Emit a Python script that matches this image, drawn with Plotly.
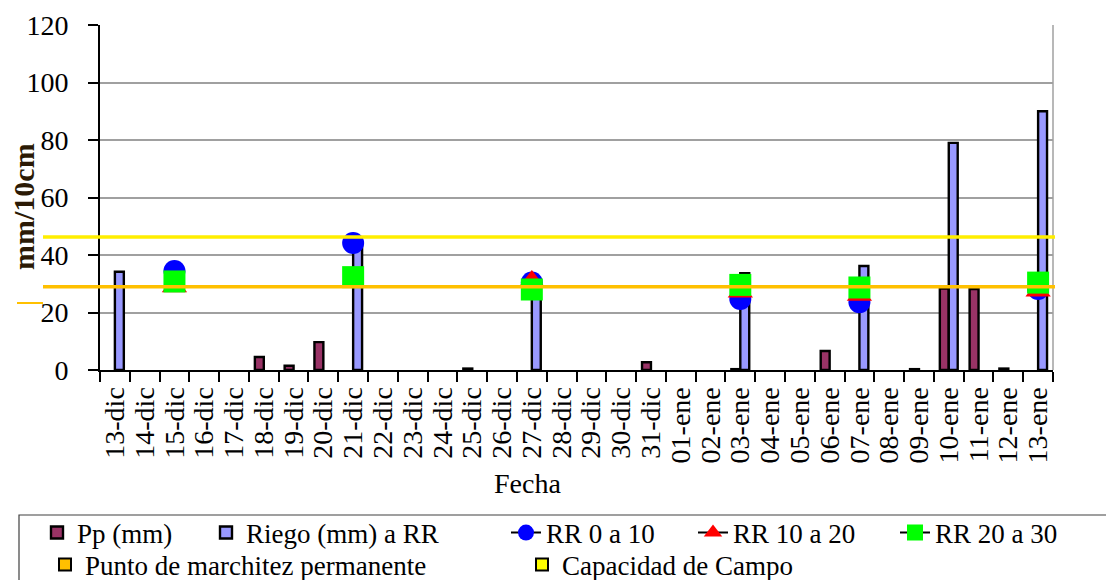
import plotly.graph_objects as go

fechas = ["13-dic", "14-dic", "15-dic", "16-dic", "17-dic", "18-dic", "19-dic", "20-dic",
          "21-dic", "22-dic", "23-dic", "24-dic", "25-dic", "26-dic", "27-dic", "28-dic",
          "29-dic", "30-dic", "31-dic", "01-ene", "02-ene", "03-ene", "04-ene", "05-ene",
          "06-ene", "07-ene", "08-ene", "09-ene", "10-ene", "11-ene", "12-ene", "13-ene"]

pp_mm = [None, None, None, None, None, 4.5, 1.5, 9.7,
         None, None, None, None, 0.5, None, None, None,
         None, None, 2.7, None, None, 0.3, None, None,
         6.6, None, None, 0.3, 28.3, 28.2, 0.5, None]

riego_mm = [34.2, None, None, None, None, None, None, None,
            44.5, None, None, None, None, None, 30.0, None,
            None, None, None, None, None, 33.7, None, None,
            None, 36.2, None, None, 79.0, None, None, 90.0]

fechas_rr = ["15-dic", "21-dic", "27-dic", "03-ene", "07-ene", "13-ene"]
rr_0_10 = [34.4, 44.2, 30.4, 24.7, 23.6, 28.2]
rr_10_20 = [29.0, 30.5, 31.0, 27.1, 26.0, 27.5]
rr_20_30 = [30.8, 32.3, 28.0, 29.6, 28.7, 30.4]

pmp = 29.0   # Punto de marchitez permanente
cc = 46.3    # Capacidad de Campo

y_ticks = [0, 20, 40, 60, 80, 100, 120]

FONT = "Liberation Serif"
L, R, T, B = 100, 53, 25, 210
PW, PH = 1106 - L - R, 580 - T - B


def px_x(px):
    return (px - L) / PW


def px_y(py):
    return (580 - B - py) / PH


def full_series(dates, vals):
    m = dict(zip(dates, vals))
    return [m.get(d) for d in fechas]


fig = go.Figure()

fig.add_trace(go.Bar(x=fechas, y=pp_mm, name="Pp (mm)", legend="legend",
                     marker=dict(color="#993366", line=dict(color="black", width=2.4))))
fig.add_trace(go.Bar(x=fechas, y=riego_mm, name="Riego (mm) a RR", legend="legend2",
                     marker=dict(color="#9999FF", line=dict(color="black", width=2.4))))

fig.add_trace(go.Scatter(x=fechas, y=full_series(fechas_rr, rr_0_10), name="RR 0 a 10",
                         legend="legend3", mode="lines+markers", connectgaps=False,
                         line=dict(color="black", width=2),
                         marker=dict(symbol="circle", size=22, color="#0000FF")))
fig.add_trace(go.Scatter(x=fechas, y=full_series(fechas_rr, rr_10_20), name="RR 10 a 20",
                         legend="legend4", mode="lines+markers", connectgaps=False,
                         line=dict(color="black", width=2),
                         marker=dict(symbol="triangle-up", size=22, color="#FF0000")))
fig.add_trace(go.Scatter(x=fechas, y=full_series(fechas_rr, rr_20_30), name="RR 20 a 30",
                         legend="legend5", mode="lines+markers", connectgaps=False,
                         line=dict(color="black", width=2),
                         marker=dict(symbol="square", size=22, color="#00FF00")))

# legend entries for the reference lines (hidden axis so they don't take bar slots)
fig.add_trace(go.Bar(x=fechas, y=[None] * len(fechas), name="Punto de marchitez permanente",
                     xaxis="x2", legend="legend6",
                     marker=dict(color="#FFC000", line=dict(color="black", width=2))))
fig.add_trace(go.Bar(x=fechas, y=[None] * len(fechas), name="Capacidad de Campo",
                     xaxis="x2", legend="legend7",
                     marker=dict(color="#FFFF00", line=dict(color="black", width=2))))

# horizontal reference lines
fig.add_shape(type="line", xref="paper", yref="y", x0=px_x(43), x1=px_x(1055), y0=cc, y1=cc,
              line=dict(color="#FFEE00", width=3.5))
fig.add_shape(type="line", xref="paper", yref="y", x0=px_x(43), x1=px_x(1055), y0=pmp, y1=pmp,
              line=dict(color="#FFC000", width=3.5))
fig.add_shape(type="line", xref="paper", yref="paper", x0=px_x(17), x1=px_x(43),
              y0=px_y(303), y1=px_y(303), line=dict(color="#FFC000", width=2))
# right border of plot area
fig.add_shape(type="line", xref="paper", yref="paper", x0=1, x1=1, y0=0, y1=1,
              line=dict(color="#A0A0A0", width=1.5), layer="below")
# legend frame
fig.add_shape(type="rect", xref="paper", yref="paper", x0=px_x(19), x1=px_x(1120),
              y0=px_y(515), y1=px_y(620), line=dict(color="#404040", width=1.2),
              fillcolor="rgba(0,0,0,0)", layer="below")

leg_font = dict(family=FONT, size=27, color="black")
row1, row2 = 533, 565
legend_pos = {
    "legend": (77, row1), "legend2": (246, row1), "legend3": (546, row1),
    "legend4": (733, row1), "legend5": (935, row1),
    "legend6": (85, row2), "legend7": (562, row2),
}
legends = {}
for key, (tx, ty) in legend_pos.items():
    legends[key] = dict(orientation="h", x=px_x(tx - 40), y=px_y(ty),
                        xanchor="left", yanchor="middle", font=leg_font,
                        borderwidth=0, bgcolor="rgba(0,0,0,0)")

fig.update_layout(
    width=1106, height=580,
    margin=dict(l=L, r=R, t=T, b=B, autoexpand=False),
    paper_bgcolor="white", plot_bgcolor="white",
    barmode="group", bargap=0.4, bargroupgap=0,
    font=dict(family=FONT, size=26, color="black"),
    xaxis=dict(type="category", categoryorder="array", categoryarray=fechas,
               range=[-0.5, len(fechas) - 0.5],
               tickmode="linear", tick0=0, dtick=1, tickangle=-90,
               tickson="boundaries", ticks="outside", ticklen=10, tickcolor="black",
               tickwidth=1.5, showline=True, linecolor="black", linewidth=2,
               showgrid=False, tickfont=dict(family=FONT, size=28, color="black"),
               ticklabelstandoff=4),
    xaxis2=dict(type="category", categoryorder="array", categoryarray=fechas,
                range=[-0.5, len(fechas) - 0.5], overlaying="x", visible=False),
    yaxis=dict(range=[0, 120], tickmode="array", tickvals=y_ticks,
               ticks="outside", ticklen=10, tickcolor="black", tickwidth=1.5,
               showline=True, linecolor="black", linewidth=2,
               showgrid=True, gridcolor="#A0A0A0", gridwidth=1.5,
               zeroline=False, tickfont=dict(family=FONT, size=28, color="black"),
               ticklabelstandoff=14),
    showlegend=True,
    annotations=[
        dict(text="<b>mm/10cm</b>", textangle=-90, xref="paper", yref="paper",
             x=px_x(23), y=px_y(207), xanchor="center", yanchor="middle", showarrow=False,
             font=dict(family=FONT, size=30, color="#2B1A05")),
        dict(text="Fecha", xref="paper", yref="paper", x=px_x(527), y=px_y(483),
             xanchor="center", yanchor="middle", showarrow=False,
             font=dict(family=FONT, size=28, color="black")),
    ],
    **legends,
)

fig.write_html("out.html")
